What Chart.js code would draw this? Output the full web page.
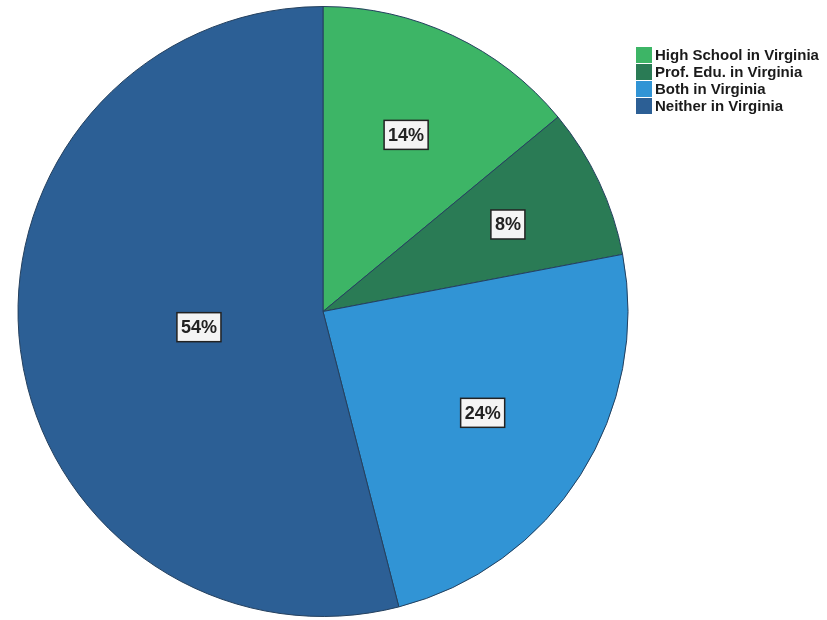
<!DOCTYPE html>
<html>
<head>
<meta charset="utf-8">
<script src="https://cdn.jsdelivr.net/npm/chart.js@4"></script>
<style>
  html, body { margin: 0; padding: 0; background: #fff; }
  #wrap { width: 827px; height: 620px; }
</style>
</head>
<body>
<div id="wrap"><canvas id="pie" width="827" height="620"></canvas></div>
<script>
const categories = ['High School in Virginia', 'Prof. Edu. in Virginia', 'Both in Virginia', 'Neither in Virginia'];
const shares = [14, 8, 24, 54];
const colors = ['#3db566', '#2a7b55', '#3194d5', '#2c5f95'];
// how far out each label sits, as a share of the radius
const labelReach = [0.64, 0.67, 0.62, 0.41];

const pctLabels = {
  id: 'pctLabels',
  afterDatasetsDraw(chart) {
    const ctx = chart.ctx;
    const meta = chart.getDatasetMeta(0);
    ctx.save();
    ctx.font = 'bold 18px Arial, "Liberation Sans", sans-serif';
    ctx.textAlign = 'center';
    ctx.textBaseline = 'middle';
    meta.data.forEach((arc, i) => {
      const mid = (arc.startAngle + arc.endAngle) / 2;
      const r = arc.outerRadius * labelReach[i];
      const x = arc.x + Math.cos(mid) * r;
      const y = arc.y + Math.sin(mid) * r;
      const txt = shares[i] + '%';
      const w = ctx.measureText(txt).width + 8;
      const h = 29;
      ctx.fillStyle = '#f4f4f4';
      ctx.fillRect(x - w / 2, y - h / 2, w, h);
      ctx.strokeStyle = '#222';
      ctx.lineWidth = 1.5;
      ctx.strokeRect(x - w / 2, y - h / 2, w, h);
      ctx.fillStyle = '#222';
      ctx.fillText(txt, x, y + 1);
    });
    ctx.restore();
  }
};

const boxLegend = {
  id: 'boxLegend',
  afterDraw(chart) {
    const ctx = chart.ctx;
    ctx.save();
    ctx.font = 'bold 15px Arial, "Liberation Sans", sans-serif';
    ctx.textBaseline = 'middle';
    categories.forEach((name, i) => {
      const y = 55 + i * 17;
      ctx.fillStyle = colors[i];
      ctx.fillRect(636, y - 8, 16, 16);
      ctx.fillStyle = '#1a1a1a';
      ctx.fillText(name, 655, y + 1);
    });
    ctx.restore();
  }
};

new Chart(document.getElementById('pie').getContext('2d'), {
  type: 'pie',
  data: {
    labels: categories,
    datasets: [{
      data: shares,
      backgroundColor: colors,
      borderColor: '#24405e',
      borderWidth: 1
    }]
  },
  options: {
    responsive: false,
    animation: false,
    layout: { padding: { left: 15, right: 196, top: 6, bottom: 3 } },
    plugins: {
      legend: { display: false },
      tooltip: { enabled: false },
      title: { display: false }
    }
  },
  plugins: [pctLabels, boxLegend]
});
</script>
</body>
</html>
